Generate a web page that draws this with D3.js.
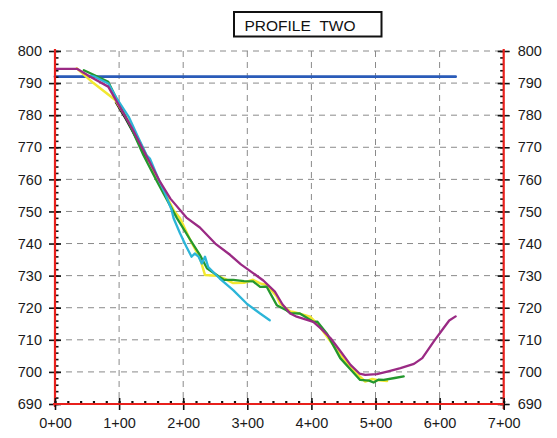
<!DOCTYPE html>
<html>
<head>
<meta charset="utf-8">
<script src="https://cdn.jsdelivr.net/npm/d3@7"></script>
<style>
  body { margin: 0; background: #fff; }
  text { font-family: "Liberation Sans", Arial, sans-serif; }
</style>
</head>
<body>
<svg id="chart" width="557" height="438"></svg>
<script>
// station in hundreds of feet (1 = 1+00), elevation in feet
var x_ticks = [0, 1, 2, 3, 4, 5, 6, 7];
var y_ticks = [690, 700, 710, 720, 730, 740, 750, 760, 770, 780, 790, 800];

var blue_x = [0, 6.25];
var blue_y = [792, 792];

var black_x = [0.95, 1.1, 1.25, 1.45];
var black_y = [784, 779, 773.5, 766];

var yellow_x = [0.34, 0.6, 0.94, 1.2, 1.4, 1.6, 1.85, 1.95, 2.1, 2.26, 2.34, 2.52, 2.65, 2.78, 2.95, 3.09, 3.2, 3.3, 3.46, 3.51, 3.67, 3.72, 3.98, 4.11, 4.3, 4.5, 4.7, 4.84, 4.95, 5.02, 5.1, 5.18];
var yellow_y = [794.6, 790, 784.7, 776.5, 768.5, 760, 750.4, 747.9, 741.5, 735.5, 730.2, 730, 729, 727.7, 727.8, 728.7, 727.6, 727.1, 723.5, 721.3, 718.8, 718.7, 717.2, 714.6, 709.5, 704, 699.5, 697, 697.8, 697.5, 697.3, 697.2];

var green_x = [0.45, 0.61, 0.83, 1.0, 1.2, 1.38, 1.6, 1.9, 2.1, 2.26, 2.37, 2.5, 2.63, 2.78, 2.95, 3.09, 3.2, 3.3, 3.46, 3.61, 3.67, 3.82, 4.03, 4.09, 4.24, 4.45, 4.6, 4.76, 4.9, 4.97, 5.05, 5.13, 5.3, 5.44];
var green_y = [794, 792.5, 790.4, 783.5, 775.5, 767.5, 759, 748, 741.5, 736.5, 732.3, 730.5, 728.7, 728.7, 728.3, 728.2, 726.5, 726.6, 720.8, 719.2, 718.3, 718.2, 715.6, 715.7, 712, 704.3, 701, 697.5, 697.3, 696.7, 697.6, 697.5, 698.1, 698.6];

var cyan_x = [0.55, 0.62, 0.83, 0.96, 1.15, 1.3, 1.43, 1.48, 1.61, 1.72, 1.82, 1.85, 1.95, 2.05, 2.13, 2.18, 2.24, 2.29, 2.34, 2.39, 2.57, 2.78, 2.99, 3.2, 3.35];
var cyan_y = [792.3, 792, 789.9, 785.3, 779.5, 773, 767.5, 766.5, 760.3, 755.5, 750.4, 747.9, 743.2, 739, 735.9, 736.9, 735.9, 733.8, 735.9, 732.7, 729.1, 725.5, 721.3, 718.2, 716.1];

var purple_x = [0, 0.35, 0.55, 0.83, 1.0, 1.2, 1.38, 1.64, 1.8, 2.05, 2.26, 2.5, 2.73, 2.9, 3.09, 3.25, 3.43, 3.55, 3.67, 3.77, 4.03, 4.15, 4.3, 4.45, 4.61, 4.75, 4.84, 5.02, 5.2, 5.39, 5.6, 5.73, 5.91, 6.06, 6.15, 6.25];
var purple_y = [794.4, 794.4, 792, 788.9, 783, 776, 769.1, 759.2, 754, 748.1, 745, 740, 736.5, 733.5, 730.8, 728.5, 725, 721, 718.2, 717.2, 715.6, 713.5, 710.5, 706.5, 702.2, 699.5, 699.1, 699.3, 700.2, 701.2, 702.5, 704.3, 709.5, 713.6, 716, 717.3];

var svg = d3.select("#chart");
var x = d3.scaleLinear().domain([0, 7]).range([55, 503.7]);
var y = d3.scaleLinear().domain([690, 800]).range([404, 51]);

// grid
var grid = svg.append("g").attr("stroke", "#8a8a8a").attr("stroke-width", 1).attr("stroke-dasharray", "6,5");
grid.selectAll("line.h").data(y_ticks.slice(1)).enter().append("line")
  .attr("x1", x(0)).attr("x2", x(7)).attr("y1", function(d) { return y(d); }).attr("y2", function(d) { return y(d); });
grid.selectAll("line.v").data(x_ticks.slice(1, 7)).enter().append("line")
  .attr("y1", y(800)).attr("y2", y(690)).attr("x1", function(d) { return x(d); }).attr("x2", function(d) { return x(d); });

// series
function draw_line(xs, ys, color, width) {
  var pts = xs.map(function(v, i) { return [v, ys[i]]; });
  var line = d3.line().x(function(d) { return x(d[0]); }).y(function(d) { return y(d[1]); });
  svg.append("path").datum(pts).attr("d", line)
    .attr("fill", "none").attr("stroke", color).attr("stroke-width", width)
    .attr("stroke-linejoin", "round").attr("stroke-linecap", "round");
}
draw_line(blue_x, blue_y, "#2a5bb8", 2.8);
draw_line(black_x, black_y, "#111", 2.2);
draw_line(yellow_x, yellow_y, "#f2e830", 2.5);
draw_line(green_x, green_y, "#24982e", 2.3);
draw_line(cyan_x, cyan_y, "#2cb5d8", 2.3);
draw_line(purple_x, purple_y, "#9a2a84", 2.3);

// axes
var red = "#e8201c";
var minor_y = d3.range(690, 801, 2);
var minor_x = d3.range(0, 7.01, 0.2);

function style_axis(g, fix_ticks) {
  g.select(".domain").remove();
  g.selectAll(".tick line").attr("stroke", "#111").attr("stroke-width", 1.6);
  g.selectAll(".tick text").attr("fill", "#1a1a1a").style("font-size", "14.5px");
  if (fix_ticks) fix_ticks(g);
}

// left
svg.append("g").attr("transform", "translate(" + x(0) + ",0)")
  .call(d3.axisLeft(y).tickValues(minor_y).tickSize(-3.5).tickFormat(""))
  .call(style_axis);
svg.append("g").attr("transform", "translate(" + x(0) + ",0)")
  .call(d3.axisLeft(y).tickValues(y_ticks).tickSize(6).tickPadding(7).tickFormat(function(d) { return d; }))
  .call(style_axis, function(g) { g.selectAll(".tick line").attr("x1", 6); });
svg.append("line").attr("x1", x(0)).attr("x2", x(0)).attr("y1", y(800) - 2).attr("y2", y(690) + 3)
  .attr("stroke", red).attr("stroke-width", 2.2);

// right
svg.append("g").attr("transform", "translate(" + x(7) + ",0)")
  .call(d3.axisRight(y).tickValues(minor_y).tickSize(-3.5).tickFormat(""))
  .call(style_axis);
svg.append("g").attr("transform", "translate(" + x(7) + ",0)")
  .call(d3.axisRight(y).tickValues(y_ticks).tickSize(6).tickPadding(8).tickFormat(function(d) { return d; }))
  .call(style_axis, function(g) { g.selectAll(".tick line").attr("x1", -6); });
svg.append("line").attr("x1", x(7)).attr("x2", x(7)).attr("y1", y(800) - 2).attr("y2", y(690) + 5)
  .attr("stroke", red).attr("stroke-width", 2.2);

// bottom
svg.append("g").attr("transform", "translate(0," + y(690) + ")")
  .call(d3.axisBottom(x).tickValues(minor_x).tickSize(-3).tickFormat(""))
  .call(style_axis, function(g) { g.selectAll(".tick line").attr("stroke-width", 2.2).attr("y1", -1); });
svg.append("g").attr("transform", "translate(0," + y(690) + ")")
  .call(d3.axisBottom(x).tickValues(x_ticks).tickSize(6).tickPadding(8).tickFormat(function(d) { return d + "+00"; }))
  .call(style_axis, function(g) { g.selectAll(".tick line").attr("y1", -6); });
svg.append("line").attr("x1", x(0) - 2).attr("x2", x(7)).attr("y1", y(690)).attr("y2", y(690))
  .attr("stroke", red).attr("stroke-width", 2.2);

// title box
svg.append("rect").attr("x", 234).attr("y", 12).attr("width", 147.5).attr("height", 24.5)
  .attr("fill", "#fff").attr("stroke", "#111").attr("stroke-width", 2);
svg.append("text").attr("x", 300).attr("y", 30.5).attr("text-anchor", "middle")
  .attr("fill", "#111").style("font-size", "15.5px")
  .text("PROFILE\u00a0\u00a0TWO");
</script>
</body>
</html>
